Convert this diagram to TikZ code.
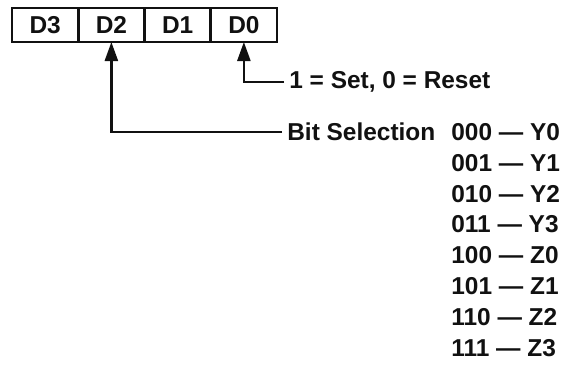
\documentclass[tikz,border=0pt]{standalone}
\usepackage{fontspec}
\setmainfont{Liberation Sans}
\usetikzlibrary{arrows.meta,positioning}
\definecolor{bsink}{HTML}{111111}

\begin{document}
\begin{tikzpicture}[font=\bfseries\fontsize{13.9}{16}\selectfont,
  cell/.style={draw=bsink, line width=1.5pt, outer sep=0pt, inner sep=0pt,
    minimum width=1.325cm, minimum height=0.68cm, text=bsink},
  sel/.style={draw=bsink, line width=1.4pt,
    -{Triangle[length=0.38cm, width=0.26cm]}},
  lbl/.style={anchor=west, inner xsep=0.10cm, inner ysep=0pt, text=bsink},
  row/.style={anchor=west, inner sep=0pt, text=bsink}]

  \useasboundingbox (0,0) rectangle (11.30,-7.36);

  % --------------------------------------------------------------------------
  % Register: four data bits in a row.
  % --------------------------------------------------------------------------
  \node[cell] (d3) at (0.9025,-0.50) {D3};
  \node[cell, right=0pt of d3] (d2) {D2};
  \node[cell, right=0pt of d2] (d1) {D1};
  \node[cell, right=0pt of d1] (d0) {D0};

  % --------------------------------------------------------------------------
  % Labels pointing into the register.
  % --------------------------------------------------------------------------
  \node[lbl] (setlbl) at (5.68,-1.64) {1 = Set, 0 = Reset};
  \node[lbl] (bitsel) at (5.64,-2.64) {Bit Selection};

  \draw[sel] (setlbl.west) -| (d0.south);
  \draw[sel] (bitsel.west) -| (d2.south);

  % --------------------------------------------------------------------------
  % Bit selection codes.
  % --------------------------------------------------------------------------
  \node[row] (cY0) at (9.02,-2.640) {000 — Y0};
  \node[row] (cY1) at (9.02,-3.256) {001 — Y1};
  \node[row] (cY2) at (9.02,-3.872) {010 — Y2};
  \node[row] (cY3) at (9.02,-4.488) {011 — Y3};
  \node[row] (cZ0) at (9.02,-5.104) {100 — Z0};
  \node[row] (cZ1) at (9.02,-5.720) {101 — Z1};
  \node[row] (cZ2) at (9.02,-6.336) {110 — Z2};
  \node[row] (cZ3) at (9.02,-6.952) {111 — Z3};

\end{tikzpicture}
\end{document}
